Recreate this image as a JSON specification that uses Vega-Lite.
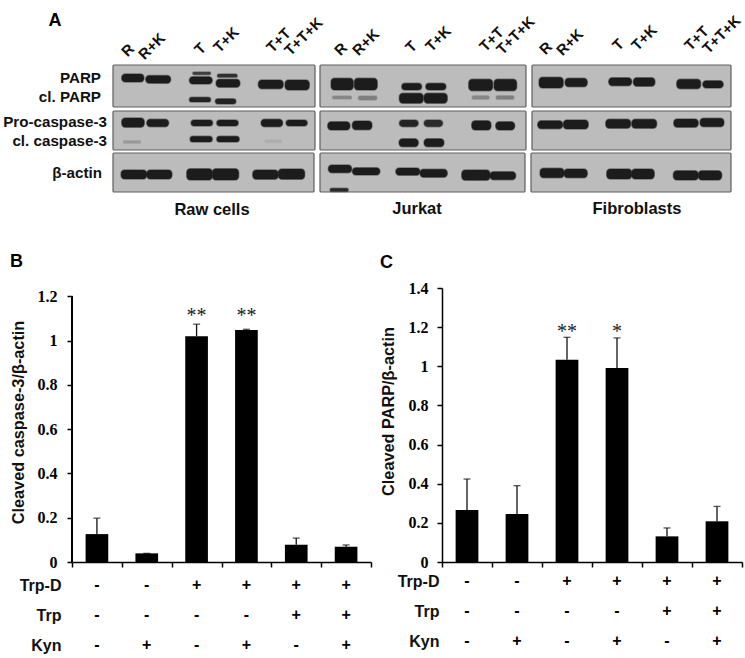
{"$schema":"https://vega.github.io/schema/vega-lite/v6.json","padding":{"left":3,"top":0,"right":0,"bottom":0},"background":"white","spacing":0,
"config":{"view":{"stroke":null},"font":"Liberation Sans","concat":{"spacing":0},
 "axisQuantitative":{"format":"~g"},
 "axisY":{"grid":false,"labelFont":"Liberation Serif","labelFontWeight":"bold","labelFontSize":16,"labelColor":"#000","ticks":true,"tickSize":5,"tickWidth":1.5,"tickColor":"#000","domainColor":"#000","domainWidth":1.5,"titleFont":"Liberation Sans","titleFontWeight":"bold","titleFontSize":16.3,"titleColor":"#111"}},
"datasets":{
"panels":[
{"cell":"Raw cells","x0":113,"x1":315,"y0":65,"y1":107},{"cell":"Raw cells","x0":113,"x1":315,"y0":111,"y1":150},{"cell":"Raw cells","x0":113,"x1":314,"y0":153,"y1":192},
{"cell":"Jurkat","x0":320,"x1":526,"y0":65,"y1":107},{"cell":"Jurkat","x0":320,"x1":526,"y0":111,"y1":150},{"cell":"Jurkat","x0":320,"x1":525,"y0":153,"y1":192},
{"cell":"Fibroblasts","x0":532,"x1":731,"y0":65,"y1":107},{"cell":"Fibroblasts","x0":532,"x1":731,"y0":111,"y1":150},{"cell":"Fibroblasts","x0":531,"x1":731,"y0":153,"y1":192}],
"bands":[
{"lane":"R","x0":121.7,"x1":144,"y0":74,"y1":82,"signal":1},{"lane":"R+K","x0":145.7,"x1":170.7,"y0":75.5,"y1":83.3,"signal":1},
{"lane":"T","x0":192.7,"x1":210.7,"y0":72,"y1":74.7,"signal":0.75},{"lane":"T","x0":189.3,"x1":212.3,"y0":76.7,"y1":84,"signal":1},{"lane":"T","x0":189.3,"x1":210.7,"y0":97.3,"y1":102,"signal":0.95},
{"lane":"T+K","x0":217.3,"x1":237.3,"y0":74,"y1":77.3,"signal":0.85},{"lane":"T+K","x0":216,"x1":240,"y0":79.3,"y1":87.3,"signal":1},{"lane":"T+K","x0":215.3,"x1":236,"y0":98.7,"y1":104,"signal":0.95},
{"lane":"T+T","x0":258.3,"x1":283.3,"y0":80,"y1":88.7,"signal":1},{"lane":"T+T+K","x0":285,"x1":309.3,"y0":80,"y1":90,"signal":1},
{"lane":"R","x0":121.7,"x1":144.3,"y0":118,"y1":127.3,"signal":1},{"lane":"R+K","x0":146.7,"x1":168.7,"y0":119.3,"y1":126.7,"signal":1},{"lane":"T","x0":191,"x1":212.7,"y0":120,"y1":126,"signal":1},{"lane":"T+K","x0":216.7,"x1":238.3,"y0":120,"y1":126,"signal":1},{"lane":"T+T","x0":261,"x1":282.7,"y0":119.3,"y1":126.7,"signal":1},{"lane":"T+T+K","x0":286,"x1":307.3,"y0":120,"y1":126,"signal":1},
{"lane":"R","x0":123.3,"x1":140.7,"y0":140.7,"y1":143.3,"signal":0.2},{"lane":"T","x0":190,"x1":212.3,"y0":136.3,"y1":142,"signal":1},{"lane":"T+K","x0":216.7,"x1":239.3,"y0":136.3,"y1":142,"signal":1},{"lane":"T+T","x0":265,"x1":281.7,"y0":140,"y1":142.7,"signal":0.08},
{"lane":"R","x0":121,"x1":146.7,"y0":170,"y1":179,"signal":1},{"lane":"R+K","x0":146.7,"x1":172,"y0":170,"y1":179,"signal":1},{"lane":"T","x0":186.7,"x1":212.3,"y0":168.7,"y1":180,"signal":1},{"lane":"T+K","x0":212.3,"x1":238.7,"y0":168.7,"y1":180,"signal":1},{"lane":"T+T","x0":252.7,"x1":278.3,"y0":170,"y1":179.3,"signal":1},{"lane":"T+T+K","x0":278.3,"x1":304.7,"y0":169,"y1":179.3,"signal":1},
{"lane":"R","x0":331,"x1":353.3,"y0":78.3,"y1":90,"signal":1},{"lane":"R+K","x0":354.3,"x1":377.3,"y0":78.3,"y1":90,"signal":1},{"lane":"T","x0":401.7,"x1":421.7,"y0":83.3,"y1":90,"signal":1},{"lane":"T","x0":399.3,"x1":423.3,"y0":93.3,"y1":103.3,"signal":1},{"lane":"T+K","x0":425.7,"x1":446,"y0":83.3,"y1":90,"signal":1},{"lane":"T+K","x0":424,"x1":447.3,"y0":93.3,"y1":103.3,"signal":1},{"lane":"T+T","x0":468.7,"x1":492.7,"y0":79.3,"y1":90.7,"signal":1},{"lane":"T+T+K","x0":494,"x1":516.7,"y0":79.3,"y1":90.7,"signal":1},
{"lane":"R","x0":332.3,"x1":351.7,"y0":96,"y1":99,"signal":0.3},{"lane":"R+K","x0":358.3,"x1":377,"y0":96,"y1":100,"signal":0.35},{"lane":"T+T","x0":472,"x1":489.3,"y0":95.7,"y1":99.3,"signal":0.3},{"lane":"T+T+K","x0":496,"x1":514,"y0":95.7,"y1":99.3,"signal":0.35},
{"lane":"R","x0":327.7,"x1":350,"y0":121.7,"y1":130,"signal":1},{"lane":"R+K","x0":352.3,"x1":372,"y0":121,"y1":129.7,"signal":1},{"lane":"T","x0":399.3,"x1":418.3,"y0":120,"y1":126.7,"signal":0.95},{"lane":"T+K","x0":424,"x1":442.7,"y0":120,"y1":126.7,"signal":0.9},{"lane":"T","x0":399,"x1":418.3,"y0":138.7,"y1":146.7,"signal":1},{"lane":"T+K","x0":424,"x1":444,"y0":138.7,"y1":146.7,"signal":1},{"lane":"T+T","x0":471.7,"x1":491,"y0":120.7,"y1":130,"signal":1},{"lane":"T+T+K","x0":495.7,"x1":514.7,"y0":121.7,"y1":130,"signal":1},
{"lane":"R","x0":328.3,"x1":351.7,"y0":165,"y1":172.7,"signal":1},{"lane":"R+K","x0":352.3,"x1":380,"y0":167.7,"y1":175,"signal":1},{"lane":"R","x0":330,"x1":348.3,"y0":188.3,"y1":191.5,"signal":0.9},{"lane":"T","x0":395.7,"x1":420,"y0":168,"y1":175.3,"signal":1},{"lane":"T+K","x0":420,"x1":447.3,"y0":169.3,"y1":177.3,"signal":1},{"lane":"T+T","x0":461.7,"x1":490,"y0":170,"y1":180.3,"signal":1},{"lane":"T+T+K","x0":490,"x1":515.7,"y0":171.7,"y1":179.7,"signal":1},
{"lane":"R","x0":539,"x1":563.3,"y0":77.3,"y1":88,"signal":1},{"lane":"R+K","x0":565,"x1":587.3,"y0":78.3,"y1":86.7,"signal":1},{"lane":"T","x0":608.7,"x1":631.7,"y0":77.7,"y1":85.7,"signal":1},{"lane":"T+K","x0":633.3,"x1":655,"y0":77.7,"y1":86.3,"signal":1},{"lane":"T+T","x0":676.7,"x1":700.7,"y0":79.3,"y1":88.7,"signal":1},{"lane":"T+T+K","x0":702.7,"x1":723.3,"y0":80.7,"y1":88,"signal":1},
{"lane":"R","x0":537.7,"x1":562.7,"y0":120.7,"y1":128.7,"signal":1},{"lane":"R+K","x0":563.3,"x1":588.3,"y0":120,"y1":129,"signal":1},{"lane":"T","x0":605.7,"x1":630.7,"y0":119.3,"y1":128.3,"signal":1},{"lane":"T+K","x0":631.7,"x1":656.7,"y0":119.3,"y1":128.3,"signal":1},{"lane":"T+T","x0":673.7,"x1":698.3,"y0":119,"y1":127.3,"signal":1},{"lane":"T+T+K","x0":700,"x1":724,"y0":118.3,"y1":126.7,"signal":1},
{"lane":"R","x0":540,"x1":564,"y0":168.3,"y1":177.7,"signal":1},{"lane":"R+K","x0":564,"x1":587.3,"y0":169,"y1":177.7,"signal":1},{"lane":"T","x0":606.7,"x1":631.7,"y0":169,"y1":179,"signal":1},{"lane":"T+K","x0":631.7,"x1":654.3,"y0":169,"y1":179,"signal":1},{"lane":"T+T","x0":673.3,"x1":698.3,"y0":170.7,"y1":180,"signal":1},{"lane":"T+T+K","x0":698.3,"x1":721.7,"y0":170.7,"y1":180,"signal":1}],
"lanes":[
{"t":"R","x":124,"y":54},{"t":"R+K","x":141,"y":57},{"t":"T","x":197,"y":52},{"t":"T+K","x":216,"y":50},{"t":"T+T","x":269,"y":50},{"t":"T+T+K","x":287,"y":53},
{"t":"R","x":337,"y":53},{"t":"R+K","x":355,"y":53},{"t":"T","x":408,"y":50},{"t":"T+K","x":428,"y":49},{"t":"T+T","x":482,"y":49},{"t":"T+T+K","x":499,"y":52},
{"t":"R","x":542,"y":52},{"t":"R+K","x":559,"y":53},{"t":"T","x":615,"y":48},{"t":"T+K","x":634,"y":48},{"t":"T+T","x":687,"y":48},{"t":"T+T+K","x":705,"y":51}],
"targets":[{"t":"PARP","x":101,"y":78},{"t":"cl. PARP","x":101,"y":97},{"t":"Pro-caspase-3","x":107,"y":122},{"t":"cl. caspase-3","x":107,"y":141},{"t":"β-actin","x":102,"y":173}],
"cells":[{"t":"Raw cells","x":212,"y":210},{"t":"Jurkat","x":417,"y":209},{"t":"Fibroblasts","x":637,"y":209}],
"letter":[{"t":"A","x":55,"y":21}],
"conditions":[
{"group":"R","row":"Trp-D","sign":"-"},{"group":"R+K","row":"Trp-D","sign":"-"},{"group":"T","row":"Trp-D","sign":"+"},{"group":"T+K","row":"Trp-D","sign":"+"},{"group":"T+T","row":"Trp-D","sign":"+"},{"group":"T+T+K","row":"Trp-D","sign":"+"},
{"group":"R","row":"Trp","sign":"-"},{"group":"R+K","row":"Trp","sign":"-"},{"group":"T","row":"Trp","sign":"-"},{"group":"T+K","row":"Trp","sign":"-"},{"group":"T+T","row":"Trp","sign":"+"},{"group":"T+T+K","row":"Trp","sign":"+"},
{"group":"R","row":"Kyn","sign":"-"},{"group":"R+K","row":"Kyn","sign":"+"},{"group":"T","row":"Kyn","sign":"-"},{"group":"T+K","row":"Kyn","sign":"+"},{"group":"T+T","row":"Kyn","sign":"-"},{"group":"T+T+K","row":"Kyn","sign":"+"}],
"caspase":[
{"group":"R","mean":0.126,"upper":0.198},{"group":"R+K","mean":0.039,"upper":0.039},{"group":"T","mean":1.02,"upper":1.074,"star":"**","starY":1.13},{"group":"T+K","mean":1.048,"upper":1.051,"star":"**","starY":1.13},{"group":"T+T","mean":0.078,"upper":0.108},{"group":"T+T+K","mean":0.069,"upper":0.077}],
"parp":[
{"group":"R","mean":0.266,"upper":0.424},{"group":"R+K","mean":0.245,"upper":0.39},{"group":"T","mean":1.034,"upper":1.148,"star":"**","starY":1.196},{"group":"T+K","mean":0.991,"upper":1.145,"star":"*","starY":1.196},{"group":"T+T","mean":0.131,"upper":0.174},{"group":"T+T+K","mean":0.208,"upper":0.284}]
},
"vconcat":[
{"width":673,"height":253,
 "encoding":{"x":{"field":"x","type":"quantitative","scale":{"domain":[72,745]},"axis":null},"y":{"field":"y","type":"quantitative","scale":{"domain":[253,0]},"axis":null},"text":{"field":"t"}},
 "layer":[
 {"data":{"name":"panels"},"mark":{"type":"rect","fill":"#bcbcbc","stroke":"#5f5f5f","strokeWidth":1.2,"cornerRadius":1},
  "encoding":{"x":{"field":"x0","type":"quantitative"},"x2":{"field":"x1"},"y":{"field":"y0","type":"quantitative"},"y2":{"field":"y1"},"text":{"value":""}}},
 {"data":{"name":"bands"},"mark":{"type":"rect","cornerRadius":3.5,"strokeWidth":1.4,"strokeOpacity":0.45},
  "encoding":{"x":{"field":"x0","type":"quantitative"},"x2":{"field":"x1"},"y":{"field":"y0","type":"quantitative"},"y2":{"field":"y1"},"text":{"value":""},
   "fill":{"field":"signal","type":"quantitative","scale":{"domain":[0,1],"range":["#bcbcbc","#1c1c1c"]},"legend":null},
   "stroke":{"field":"signal","type":"quantitative","scale":{"domain":[0,1],"range":["#bcbcbc","#1c1c1c"]},"legend":null}}},
 {"data":{"name":"lanes"},"mark":{"type":"text","angle":315,"align":"left","baseline":"middle","font":"Liberation Sans","fontWeight":"bold","fontSize":15,"fill":"#111"}},
 {"data":{"name":"targets"},"mark":{"type":"text","align":"right","baseline":"middle","font":"Liberation Sans","fontWeight":"bold","fontSize":15.2,"fill":"#111"}},
 {"data":{"name":"cells"},"mark":{"type":"text","align":"center","baseline":"middle","font":"Liberation Sans","fontWeight":"bold","fontSize":16.5,"fill":"#111"}},
 {"data":{"name":"letter"},"mark":{"type":"text","align":"center","baseline":"middle","font":"Liberation Sans","fontWeight":"bold","fontSize":18,"fill":"#000"}}
 ]},
{"hconcat":[
 {"spacing":0,"vconcat":[
  {"width":299,"height":274,
   "title":{"text":"B","anchor":"start","frame":"bounds","font":"Liberation Sans","fontWeight":"bold","fontSize":18,"offset":17},
   "data":{"name":"caspase"},
   "encoding":{"x":{"field":"group","type":"nominal","sort":null,"scale":{"domain":["R","R+K","T","T+K","T+T","T+T+K"],"paddingInner":0,"paddingOuter":0},
     "axis":{"title":null,"labels":false,"ticks":true,"tickBand":"extent","tickExtra":true,"tickSize":5,"tickWidth":1.5,"tickColor":"#000","domainColor":"#000","domainWidth":1.5}}},
   "layer":[
    {"mark":{"type":"rule","stroke":"#000","strokeWidth":1.5},"encoding":{"x":{"value":0},"y":{"datum":0,"type":"quantitative","scale":{"domain":[0,1.2375],"nice":false},"axis":{"title":"Cleaved caspase-3/β-actin","titleY":134,"domain":false,"values":[0,0.2,0.4,0.6,0.8,1,1.2],"labelPadding":10,"titlePadding":11}},"y2":{"datum":1.2}}},
    {"mark":{"type":"rule","stroke":"#111","strokeWidth":1.3},"encoding":{"y":{"field":"mean","type":"quantitative","scale":{"domain":[0,1.2375],"nice":false},"axis":{"title":"Cleaved caspase-3/β-actin","titleY":134,"domain":false,"values":[0,0.2,0.4,0.6,0.8,1,1.2],"labelPadding":10,"titlePadding":11}},"y2":{"field":"upper"}}},
    {"mark":{"type":"tick","size":7,"thickness":1.3,"color":"#111"},"encoding":{"y":{"field":"upper","type":"quantitative","scale":{"domain":[0,1.2375],"nice":false},"axis":{"title":"Cleaved caspase-3/β-actin","titleY":134,"domain":false,"values":[0,0.2,0.4,0.6,0.8,1,1.2],"labelPadding":10,"titlePadding":11}}}},
    {"mark":{"type":"bar","color":"#000","width":{"band":0.455}},"encoding":{"y":{"field":"mean","type":"quantitative","scale":{"domain":[0,1.2375],"nice":false},"axis":{"title":"Cleaved caspase-3/β-actin","titleY":134,"domain":false,"values":[0,0.2,0.4,0.6,0.8,1,1.2],"labelPadding":10,"titlePadding":11}}}},
    {"transform":[{"filter":"datum.star"}],"mark":{"type":"text","font":"Liberation Serif","fontSize":20,"dy":4,"baseline":"middle","fill":"#222"},"encoding":{"y":{"field":"starY","type":"quantitative","scale":{"domain":[0,1.2375],"nice":false},"axis":{"title":"Cleaved caspase-3/β-actin","titleY":134,"domain":false,"values":[0,0.2,0.4,0.6,0.8,1,1.2],"labelPadding":10,"titlePadding":11}},"text":{"field":"star"}}}
   ]},
  {"width":299,"height":90,"data":{"name":"conditions"},"mark":{"type":"text","font":"Liberation Sans","fontWeight":"bold","fontSize":16,"fill":"#000"},
   "encoding":{"x":{"field":"group","type":"nominal","sort":null,"scale":{"domain":["R","R+K","T","T+K","T+T","T+T+K"],"paddingInner":0,"paddingOuter":0},"axis":null},
    "y":{"field":"row","type":"nominal","sort":["Trp-D","Trp","Kyn"],"axis":{"title":null,"domain":false,"ticks":false,"labelPadding":11,"labelFont":"Liberation Sans","labelFontWeight":"bold","labelFontSize":16,"labelColor":"#111"}},
    "text":{"field":"sign"}}}
 ]},
 {"spacing":0,"vconcat":[
  {"width":300,"height":274,
   "title":{"text":"C","anchor":"start","frame":"bounds","font":"Liberation Sans","fontWeight":"bold","fontSize":18,"offset":8},
   "data":{"name":"parp"},
   "encoding":{"x":{"field":"group","type":"nominal","sort":null,"scale":{"domain":["R","R+K","T","T+K","T+T","T+T+K"],"paddingInner":0,"paddingOuter":0},
     "axis":{"title":null,"labels":false,"ticks":true,"tickBand":"extent","tickExtra":true,"tickSize":5,"tickWidth":1.5,"tickColor":"#000","domainColor":"#000","domainWidth":1.5}}},
   "layer":[
    {"mark":{"type":"rule","stroke":"#111","strokeWidth":1.3},"encoding":{"y":{"field":"mean","type":"quantitative","scale":{"domain":[0,1.4],"nice":false},"axis":{"title":"Cleaved PARP/β-actin","titleY":123,"values":[0,0.2,0.4,0.6,0.8,1,1.2,1.4],"labelPadding":9,"titlePadding":12}},"y2":{"field":"upper"}}},
    {"mark":{"type":"tick","size":7,"thickness":1.3,"color":"#111"},"encoding":{"y":{"field":"upper","type":"quantitative","scale":{"domain":[0,1.4],"nice":false},"axis":{"title":"Cleaved PARP/β-actin","titleY":123,"values":[0,0.2,0.4,0.6,0.8,1,1.2,1.4],"labelPadding":9,"titlePadding":12}}}},
    {"mark":{"type":"bar","color":"#000","width":{"band":0.455}},"encoding":{"y":{"field":"mean","type":"quantitative","scale":{"domain":[0,1.4],"nice":false},"axis":{"title":"Cleaved PARP/β-actin","titleY":123,"values":[0,0.2,0.4,0.6,0.8,1,1.2,1.4],"labelPadding":9,"titlePadding":12}}}},
    {"transform":[{"filter":"datum.star"}],"mark":{"type":"text","font":"Liberation Serif","fontSize":20,"dy":4,"baseline":"middle","fill":"#222"},"encoding":{"y":{"field":"starY","type":"quantitative","scale":{"domain":[0,1.4],"nice":false},"axis":{"title":"Cleaved PARP/β-actin","titleY":123,"values":[0,0.2,0.4,0.6,0.8,1,1.2,1.4],"labelPadding":9,"titlePadding":12}},"text":{"field":"star"}}}
   ]},
  {"width":300,"height":90,"data":{"name":"conditions"},"mark":{"type":"text","font":"Liberation Sans","fontWeight":"bold","fontSize":16,"fill":"#000","dy":-4},
   "encoding":{"x":{"field":"group","type":"nominal","sort":null,"scale":{"domain":["R","R+K","T","T+K","T+T","T+T+K"],"paddingInner":0,"paddingOuter":0},"axis":null},
    "y":{"field":"row","type":"nominal","sort":["Trp-D","Trp","Kyn"],"axis":{"title":null,"domain":false,"ticks":false,"labelPadding":3,"labelOffset":-4,"labelFont":"Liberation Sans","labelFontWeight":"bold","labelFontSize":16,"labelColor":"#111"}},
    "text":{"field":"sign"}}}
 ]}
],"spacing":8}
]}
